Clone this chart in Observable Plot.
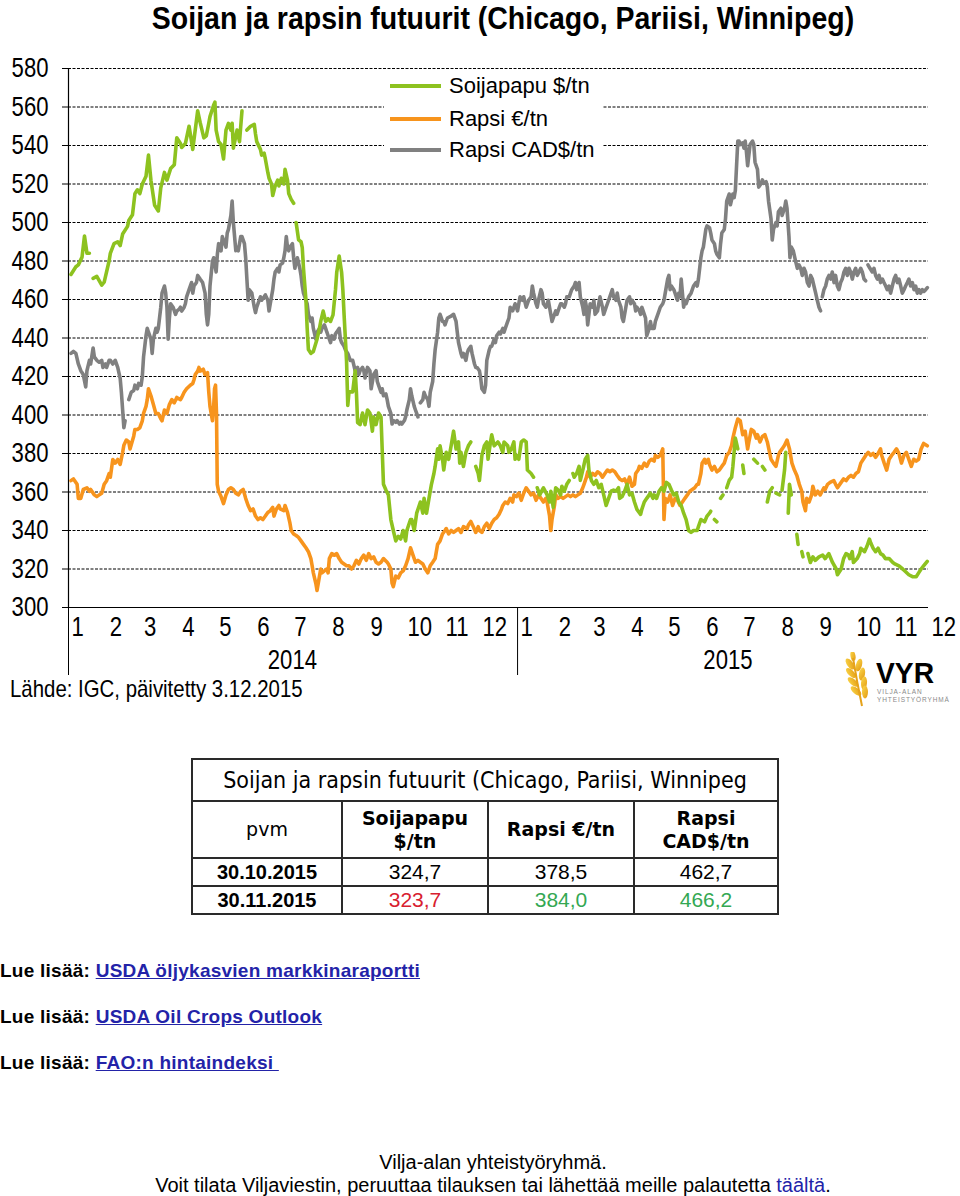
<!DOCTYPE html>
<html lang="fi">
<head>
<meta charset="utf-8">
<script src="https://cdn.jsdelivr.net/npm/d3@7"></script>
<script src="https://cdn.jsdelivr.net/npm/@observablehq/plot@0.6"></script>
<style>
html,body{margin:0;padding:0;background:#fff;}
body{position:relative;width:960px;height:1196px;overflow:hidden;font-family:"Liberation Sans",Arial,sans-serif;color:#000;}
#title{position:absolute;left:47px;top:0;width:912px;text-align:center;font-weight:bold;font-size:32px;line-height:36px;white-space:nowrap;transform:scaleX(0.89);transform-origin:456px 0;}
#chart{position:absolute;left:0;top:40px;}
#legend{position:absolute;left:384px;top:70px;width:218px;height:92px;background:#fff;}
.li{position:absolute;left:6px;height:32px;display:flex;align-items:center;font-size:22px;white-space:nowrap;}
.sw{display:inline-block;width:51px;height:4px;margin-right:8px;}
#source{position:absolute;left:10px;top:675px;font-size:24px;line-height:28px;white-space:nowrap;transform:scaleX(0.85);transform-origin:0 0;}
#logo{position:absolute;left:843px;top:652px;}
#tbl{position:absolute;left:191px;top:758px;width:586px;border-collapse:collapse;table-layout:fixed;}
#tbl td{border:2px solid #2a2a2a;text-align:center;padding:0;}
#tbl .t{height:40px;font-family:"DejaVu Sans Condensed","DejaVu Sans",sans-serif;font-size:23px;}
#tbl .h td{height:55px;font-family:"DejaVu Sans",sans-serif;font-size:19px;font-weight:bold;line-height:23px;}
#tbl .h td.pvm{font-weight:normal;}
#tbl .r td{height:26px;font-size:21px;}
#tbl .r td.d{font-weight:bold;font-size:20px;}
.red{color:#d8202f;} .grn{color:#34a853;}
.lnk{position:absolute;left:0;font-size:19px;font-weight:bold;line-height:22px;letter-spacing:0.25px;white-space:nowrap;}
.lnk a{color:#2323a8;text-decoration:underline;}
.foot{position:absolute;left:0;width:986px;text-align:center;font-size:20px;line-height:23px;white-space:nowrap;}
.foot a{color:#2323a8;text-decoration:none;}
</style>
</head>
<body>
<div id="title">Soijan ja rapsin futuurit (Chicago, Pariisi, Winnipeg)</div>
<div id="chart"></div>
<div id="legend"></div>
<div id="source">Lähde: IGC, päivitetty 3.12.2015</div>
<svg id="logo" width="117" height="56" viewBox="0 0 117 56">
  <defs>
    <linearGradient id="gold" x1="0" y1="0" x2="1" y2="1">
      <stop offset="0" stop-color="#FBD84A"/>
      <stop offset="1" stop-color="#E39A12"/>
    </linearGradient>
  </defs>
  <g fill="url(#gold)">
    <ellipse cx="7" cy="12" rx="3" ry="6.5" transform="rotate(-35 7 12)"/>
    <ellipse cx="8" cy="21" rx="3" ry="6.5" transform="rotate(-45 8 21)"/>
    <ellipse cx="10" cy="30" rx="3" ry="6.5" transform="rotate(-50 10 30)"/>
    <ellipse cx="13" cy="39" rx="3" ry="6.5" transform="rotate(-50 13 39)"/>
    <ellipse cx="16" cy="13" rx="3" ry="6.5" transform="rotate(15 16 13)"/>
    <ellipse cx="19" cy="22" rx="3" ry="6.5" transform="rotate(10 19 22)"/>
    <ellipse cx="21" cy="31" rx="3" ry="6.5" transform="rotate(5 21 31)"/>
    <ellipse cx="22" cy="40" rx="3" ry="6.5" transform="rotate(0 22 40)"/>
    <ellipse cx="10" cy="4" rx="2.5" ry="5" transform="rotate(-10 10 4)"/>
  </g>
  <path d="M10 6 Q14 30 19 54" stroke="#E5A21A" stroke-width="2" fill="none"/>
  <text x="33" y="31" font-family="Liberation Sans, Arial, sans-serif" font-weight="bold" font-size="30" textLength="58" lengthAdjust="spacingAndGlyphs">VYR</text>
  <text x="34" y="42" font-family="Liberation Sans, Arial, sans-serif" font-size="6.5" fill="#8a8a8a" letter-spacing="0.9">VILJA-ALAN</text>
  <text x="34" y="50" font-family="Liberation Sans, Arial, sans-serif" font-size="6.5" fill="#8a8a8a" letter-spacing="0.9">YHTEISTYÖRYHMÄ</text>
</svg>

<table id="tbl">
  <colgroup><col style="width:150px"><col style="width:146px"><col style="width:146px"><col style="width:144px"></colgroup>
  <tr><td class="t" colspan="4">Soijan ja rapsin futuurit (Chicago, Pariisi, Winnipeg</td></tr>
  <tr class="h"><td class="pvm">pvm</td><td>Soijapapu<br>$/tn</td><td>Rapsi €/tn</td><td>Rapsi<br>CAD$/tn</td></tr>
  <tr class="r"><td class="d">30.10.2015</td><td>324,7</td><td>378,5</td><td>462,7</td></tr>
  <tr class="r"><td class="d">30.11.2015</td><td class="red">323,7</td><td class="grn">384,0</td><td class="grn">466,2</td></tr>
</table>

<div class="lnk" style="top:960px">Lue lisää: <a>USDA öljykasvien markkinaraportti</a></div>
<div class="lnk" style="top:1006px">Lue lisää: <a>USDA Oil Crops Outlook</a></div>
<div class="lnk" style="top:1052px">Lue lisää: <a>FAO:n hintaindeksi&nbsp;</a></div>

<div class="foot" style="top:1151px">Vilja-alan yhteistyöryhmä.</div>
<div class="foot" style="top:1174px">Voit tilata Viljaviestin, peruuttaa tilauksen tai lähettää meille palautetta <a>täältä</a>.</div>

<script>
// ---------- data (x = days since 1 Jan 2014, y = price) ----------
const seriesNames = ["Soijapapu $/tn", "Rapsi €/tn", "Rapsi CAD$/tn"];
const seriesColors = ["#8DC21F", "#F7941D", "#808080"];

const soyPts = [[2,473],[6,477],[8,478],[11,482],[13,493],[15,484],[17,484],[19,null],[20,471],[23,472],[27,467.5],[29,469],[33,480],[34,484],[37,489],[40,490],[42,488],[44,494],[48,498],[49,501],[52,504],[54,515],[56,517],[58,515],[60,520],[63,524],[65,535],[67,522],[70,509],[73,506],[75,518],[78,526],[80,522],[83,528],[86,530],[88,544],[91,541],[92,539],[95,541],[98,550],[101,538],[105,558],[107,552],[110,544],[112,545],[114,551.5],[115,555],[118,561],[119,562.5],[120,548],[122,542],[124,540.5],[126,533],[128,548],[130,551.5],[132,548],[133,551.5],[134,538.6],[137,548],[139,542],[141,558],[143,null],[145,548],[148,550],[151,551],[152,546],[153,542],[156,538],[157,535],[159,536],[160,533],[162,526],[163,523],[165,520],[166,514],[168,519],[170,522],[171,519],[173,523],[175,520],[176,527.6],[178,522],[179,515],[181,512],[183,510],[184,null],[185,500],[187,491],[189,490],[190,487],[191,476],[193,459.6],[194,445],[195,434],[197,432],[199,433],[202,439.4],[204,445],[205,448.6],[207,454],[209,448.6],[211,450],[213,448.6],[215,452],[217,465],[218,474],[220,482.6],[222,474],[223,465],[224,452],[226,428],[227,405],[228,412],[231,412],[233,423],[234,412],[235,396],[237,395],[239,401],[241,395],[243,402.6],[245,401],[247,391.6],[248,399],[250,395],[252,401],[254,399],[256,364],[258,361],[260,358.5],[262,345.7],[264,340],[266,334.6],[268,337],[270,335.6],[272,340],[274,334.6],[275,340],[278,345.7],[279,345.7],[281,340],[283,349],[286,354.8],[288,349],[289,356.7],[291,349],[293,356.7],[295,364],[297,369.6],[298,373.3],[300,382.4],[301,377],[302,384],[304,377],[305,371.4],[307,380.6],[309,377],[311,384],[313,391.6],[315,382.4],[317,386],[318,375],[319,380.6],[321,373.3],[323,380.6],[325,384],[327,386],[329,null],[331,373.3],[333,369.6],[334,366],[336,379],[338,384],[340,386],[341,377],[343,386],[344,389.7],[346,384],[349,386],[351,384],[353,380.6],[354,386],[357,384],[358,380.6],[360,382.4],[362,386],[363,377],[364,379],[366,377],[368,386],[370,387],[372,386],[373,371.4],[376,369.6],[378,367.7],[380,null],[381,362.2],[383,358.5],[385,361],[386,362.2],[389,358.5],[391,354.8],[392,360.4],[394,352],[396,362.2],[398,361],[400,358.5],[401,363],[403,360.4],[405,364],[407,366],[408,null],[410,369.6],[411,367.7],[413,369.6],[415,373.3],[416,366],[418,371.4],[420,377],[422,379],[423,371.4],[425,366],[427,364],[429,366],[431,362.2],[433,364],[435,358.5],[437,353],[439,356.7],[441,360.4],[443,361],[445,360.4],[447,362.2],[448,356.7],[450,357.6],[452,360.4],[454,364],[456,358.5],[458,359.4],[460,354.8],[462,351],[465,348.4],[466,351],[468,354.8],[470,356.7],[473,359.4],[475,356.7],[476,358.5],[478,356.7],[480,360.4],[482,362.2],[484,360.4],[486,365],[488,364],[490,361],[492,358.5],[494,359.4],[496,354.8],[498,353],[500,349],[502,345.7],[504,340],[506,339],[508,340],[511,340],[512,342],[514,345.7],[517,344.5],[519,347.5],[521,349],[522,350],[523,null],[525,345.7],[527,344.5],[529,null],[530,356.7],[532,358.5],[533,null],[535,362.2],[537,366],[539,367.7],[540,373.3],[542,388],[544,382.4],[546,null],[548,374],[549,369.6],[551,null],[557,377],[560,375],[561,null],[564,373.3],[566,371.4],[567,null],[568,354.8],[570,360.4],[572,362.2],[573,null],[575,359.4],[578,358.5],[579,null],[580,361],[582,371.4],[583,380.6],[584,null],[585,349],[586,364],[587.5,358.5],[590,null],[592,338],[593,332.8],[594,null],[596,329],[597,326.3],[598,null],[601,328],[603,323.4],[605,326.3],[607,324.5],[610,326.3],[613,327.2],[615,325.4],[618,328],[621,323.4],[624,320],[625,317],[628,320],[630,325.4],[632,328],[634,327.2],[635,325.4],[637,329],[638,323.4],[641,325.4],[643,328],[644,330.8],[647,329],[649,331.8],[651,335.5],[652,333.6],[654,330.8],[656,329],[658,330.8],[660,328],[662,327.2],[664,325.4],[667,325.4],[670,323.4],[672,322.5],[675,321.6],[678,320],[680,318.8],[683,317],[686,316],[689,316],[691,318],[693,320],[695,321.6],[698,324]];

const rapeEurPts = [[2,365.9],[4,366.8],[7,364],[8,356.7],[10,356.7],[12,361.3],[15,362.2],[17,360.4],[18,361.3],[21,358.5],[23,357.6],[25,358.5],[27,359.4],[29,364],[31,365.9],[33,369.6],[34,367.7],[36,376.9],[38,375],[40,376.9],[42,374.3],[44,380.6],[45,384.3],[47,387],[49,386],[50,382.4],[53,389],[54,392.5],[56,392.5],[58,393.4],[60,397],[61,400.8],[63,404.5],[64,408],[65,413.6],[67,410],[69,405.4],[71,400.8],[73,400.8],[75,398],[76,397],[78,402.6],[80,400.8],[82,405.4],[84,408],[86,406.3],[88,409.1],[91,408],[92,409.1],[94,411.8],[96,413.6],[99,415.5],[101,416.4],[102,418.3],[103,421],[105,422.8],[106,424.7],[107,422.8],[109.5,423.8],[111,421],[113,422],[114,412],[115,404.5],[117,397],[118,404.5],[118.7,413.6],[119.5,415.5],[120.3,400.8],[120.9,364],[122,360.4],[124,357.6],[126,354],[128,358.5],[130,361.3],[132,362.2],[134,361.3],[136,359.4],[138,358.5],[140,360.4],[142,361.3],[144,356.7],[146,353],[148,350.3],[150,351.2],[152,347.5],[154,345.7],[156,346.6],[158,345.7],[160,347.5],[162,349.4],[164,350.3],[166,352],[167,347.5],[169,351.2],[171,353],[172,351.2],[175,350.3],[176,353],[178,349.4],[180,343.8],[181,340],[183,338.2],[185,337.4],[187,336.4],[189,334.6],[191,332.8],[193,331],[195,329],[197,325.4],[198,321.8],[199,318],[201,312.6],[202,308.9],[204,316.3],[205,320],[206,318],[208,319],[210,320],[211,318],[212,325.4],[214,328],[216,327.2],[218,328],[220,325.4],[222,323.5],[224,322.6],[226,321.7],[228,321.7],[230,320],[232,321.7],[234,324.5],[236,322.6],[238,325.4],[240,327.2],[242,324.5],[244,328],[246,325.4],[248,326.3],[250,323.5],[252,322.6],[254,323.5],[256,325.4],[259,323.5],[260,322.6],[262,320],[263,312.6],[264,310.8],[266,316.3],[268,315.4],[270,318],[272,319],[274,321.7],[276,325.4],[278,331],[280,327.2],[282,323.5],[284,324.5],[286,323.5],[288,322.6],[290,320],[292,318],[294,321.7],[296,323.5],[298,325.4],[300,332.8],[302,334.6],[304,338.2],[306,340],[307,341],[309,338.2],[311,340],[313,339],[315,340],[317,341],[319,339],[321,342],[324,341],[325,342.8],[327,344.7],[329,342],[331,339],[333,342],[334,340],[336,339],[338,342],[340,343.8],[342,341],[344,343.8],[346,345.7],[348,346.6],[350,348.4],[352,351.2],[353,353],[355,354.8],[357,354],[359,356.7],[361,354.8],[362,358.5],[364,357.6],[366,359.4],[368,355.7],[370,359.4],[372,362.2],[373,361.3],[376,358.5],[378,359.4],[380,355.7],[382,358.5],[384,356.7],[386,354.8],[388,356.7],[389,354.8],[391,347.5],[392,340],[393,345.7],[395,353],[396,358.5],[398,356.7],[400,357.6],[402,356.7],[404,357.6],[406,358.5],[408,357.6],[410,358.5],[412,357.6],[414,358.5],[416,359.4],[418,362.2],[419,364],[421,367.7],[422,370.5],[424,367.7],[426,369.6],[428,368.6],[430,370.5],[432,369.6],[434,367.7],[436,369.6],[438,371.4],[440,370.5],[442,371.4],[444,370.5],[446,368.6],[448,366.8],[450,365.9],[452,366.8],[454,364],[456,367.7],[458,363],[460,364],[461,369.6],[463,371.4],[464,373.3],[466,372.3],[468,375],[470,373.3],[472,376],[474,377],[476,376],[477,379],[479,378],[481,379],[483,382.4],[484,345.7],[485,356.7],[487,354.8],[489,358.5],[491,353],[493,356.7],[495,355.7],[497,353],[499,354.8],[501,356.7],[503,358.5],[505,360.4],[507,361.3],[509,362.2],[511,364],[512,364],[514,369.6],[515,375],[517,377],[518,375],[520,377],[521,374.3],[523,371.4],[525,373.3],[527,370.5],[529,371.4],[531,373.3],[533,375],[535,379],[537,380.6],[539,384.3],[540,388],[542,393.4],[544,397.9],[546,397],[547,393.4],[548,389.8],[550,391.6],[552,382.4],[553,386],[555,392.5],[557,391.6],[559,388],[560,389.8],[562,386],[564,388.9],[566,389.8],[568,386],[571,377],[573,375],[575,373.3],[577,379],[578,380.6],[580,382.4],[582,384.3],[584,387],[586,382.4],[588,375],[590,371.4],[592,368.6],[594,364],[596,360.4],[597,354.8],[599,350.3],[600,356.7],[602,354.8],[604,358.5],[605,363],[607,358.5],[609,360.4],[611,358.5],[614,362.2],[615,361.3],[617,364],[619,365],[622,365.9],[623.5,364],[625,362.2],[628,365],[630,366.8],[632,365.9],[634,367.7],[636,368.6],[638,367.7],[640,369.6],[642,370.5],[644,375],[646,377],[648,379],[650,380.6],[652,379],[654,380],[656,378],[658,380],[660,382.4],[661,379],[663,375],[665,371.4],[667,377],[669,379],[671,380.6],[673,382.4],[675,380],[677,375],[679,379],[681,380.6],[683,377],[685,373.3],[687,377],[689,376],[691,377],[693,382.4],[695,385.2],[698,384]];

const rapeCadPts = [[2,432],[4,433],[6,432],[8,426.5],[10,423],[12,421],[14,414.6],[15,423],[17,428.4],[18,426.5],[20,434.8],[21,430.2],[23,428.4],[25,427.4],[27,428.4],[28,424.7],[30,426.5],[31,424.7],[33,428.4],[34,428.4],[36,426.5],[38,428.4],[40,424.7],[42,419],[43,411.8],[44,402.6],[45,393.4],[46,397],[47,null],[49,408],[51,411.8],[53,412.7],[54,415.5],[56,413.6],[57,416.4],[59,415.5],[60,420],[61,430.2],[63,441.2],[64,445],[65,443],[67,439.4],[68,432],[69,439.4],[71,445],[72,443],[73,445],[75,456],[76,463.3],[78,467],[79,463.3],[80,456],[81,439.4],[82,450.4],[83,457.8],[85,456],[87,452.3],[88,454],[90,455],[91,456],[92,454],[94,456],[95,457.8],[96,461.4],[98,465.1],[99,467],[100,468.8],[101,463.3],[102,467],[104,468.8],[105,472.5],[107,470.6],[109,468.8],[111,463.3],[112,452.3],[113,446.8],[114,452.3],[115,467],[117,479.8],[118,481.7],[120,474.3],[121,483.5],[122,489],[124,485.3],[125,492.7],[126,490.9],[128,487.2],[129,494.5],[130,496.4],[132,503.7],[133,511.1],[134,500],[136,485.3],[137,487.2],[138,485.3],[140,492.7],[141,492.7],[143,489],[144,481.7],[145,470.6],[146,459.6],[147,465.1],[149,463.3],[150,459.6],[151,456],[152,453.2],[153,456],[155,459.6],[156,461.4],[157,459.6],[159,461.4],[160,462.4],[162,459.6],[163,454],[164,457.8],[166,465.1],[167,470.6],[168,474.3],[170,476.2],[171,474.3],[172,478],[174,478.9],[175,481.7],[176,485.3],[177,492.7],[178,487.2],[179,485.3],[180,487.2],[182,489],[183,481.7],[184,476.2],[185,479.8],[186,481.7],[188,476.2],[189,472.5],[190,467],[191,463.3],[193,459.6],[194,457.8],[195,452.3],[197,448.6],[198,450.4],[199,445],[201,439.4],[202,443],[204,445],[205,443],[206,445],[208,446.8],[209,445],[210,443],[212,439.4],[213,437.6],[214,441.2],[216,439.4],[217,442.2],[218,443],[220,445],[221,439.4],[222,437.6],[224,435.7],[225,433.9],[227,432],[228,430.2],[229,428.4],[231,428.4],[233,423],[235,424.7],[236,421],[237,423],[239,424.7],[240,423],[241,419.2],[243,424.7],[245,423],[246,413.6],[248,421],[250,423],[251,417.4],[252,415.5],[254,411.8],[255,413.6],[256,410],[258,410.9],[259,408],[260,404.5],[262,400.8],[263,395.3],[264,397.1],[266,396.2],[267,397.1],[269,395.3],[270,396.2],[271,395.3],[273,397.1],[274,399],[275,402.6],[277,408],[278,413.6],[279,410],[281,404.5],[282,402.6],[283,400.8],[284,399],[285,null],[286,406.3],[288,408],[289,411.8],[290,410],[292,408],[293,404.5],[294,411.8],[296,417.4],[297,426.5],[298,433.9],[300,443],[301,450.4],[302,452.3],[304,448.6],[305,448.6],[306,446.8],[308,450.4],[311,451.4],[313,452.3],[315,448.6],[316,443],[317,437.6],[319,432],[320,430.2],[321,432],[323,428.4],[324,432],[325,433.9],[327,435.7],[328,432],[330,426.5],[331,424.7],[332,424.7],[334,423],[335,419.2],[336,413.6],[338,411.8],[339,415.5],[340,428.4],[342,433.9],[343,435.7],[344,435.7],[346,439.4],[347,437.6],[348,441.2],[350,443],[351,442.1],[353,445],[354,443],[355,445],[357,448.6],[358,450.4],[359,456],[361,454.1],[362,456],[363,457.8],[365,454.1],[366,457.8],[367,461.4],[369,459.6],[370,461.4],[372,456],[373,457.8],[374,459.6],[376,461.4],[377,467],[378,463.3],[380,457.8],[381,456],[382,459.6],[384,465.1],[385,463.3],[386,457.8],[388,456],[389,457.8],[390,459.6],[392,452.3],[393,448.6],[395,452.3],[396,454.1],[397,452.3],[399,456],[400,457.8],[401,457.8],[403,456],[404,457.8],[405,461.4],[407,461.4],[408,463.3],[409,465.1],[411,467],[412,468.8],[413,465.1],[414,467],[415,468.8],[416,461.4],[418,456],[419,452.3],[420,459.6],[421,456],[422,446.8],[423,452.3],[424,457.8],[426,456],[427,459.6],[428,452.3],[430,454.1],[431,457.8],[432,461.4],[434,456],[435,452.3],[437,456],[438,457.8],[439,459.6],[441,463.3],[442,465.1],[443,461.4],[445,459.6],[446,463.3],[447,459.6],[449,456],[450,450.4],[451,448.6],[453,456],[454,459.6],[456,461.4],[457,457.8],[458,459.6],[460,457.8],[461,454.1],[462,456],[464,454.1],[465,452.3],[466,456],[468,452.3],[469,450.4],[470,441.2],[472,445],[473,448.6],[474,445],[476,445],[477,448.6],[479,452.3],[480,454.1],[481,456],[483,457.8],[484,459.6],[485,463.3],[487,470.6],[488,472.5],[489,465.1],[490,467],[492,465.1],[493,463.3],[494,461.4],[495,459.6],[496,463.3],[497,461.4],[498,470.6],[499,463.3],[500,456],[501,459.6],[502,457.8],[503,459.6],[504,461.4],[506,463.3],[507,465.1],[508,467],[510,468.8],[511,467],[512,470.6],[514,481.7],[515,485.3],[516,487.2],[518,496.4],[519,498.2],[521,497.3],[522,494.5],[523,490.9],[525,489],[526,485.3],[527,483.5],[529,481.7],[530,489],[531,494.5],[533,496.4],[534,501.9],[535,511.1],[537,514.8],[538,509.2],[540,514.8],[541,512.9],[542,516.6],[543,529.5],[544,542.3],[545,542.3],[546,540.5],[548,541.4],[549,538.6],[550,542.3],[551,536.8],[552,529.5],[553,535],[554,540.5],[556,542.3],[557,540.5],[558,531.3],[560,527.6],[561,518.4],[563,520.3],[564,522.1],[565,520.3],[567,521.2],[568,518.4],[569,511.1],[571,501.9],[572,490.9],[573,496.4],[575,500],[576,498.2],[577,505.6],[579,507.4],[580,503.7],[582,507.4],[583,511.1],[584,507.4],[585.6,492.7],[586.4,481.7],[587.5,487.2],[589.1,485.3],[591,479.8],[592.4,476.2],[593.7,478],[595.1,476.2],[596.4,472.5],[597.8,476.2],[599.1,474.3],[600.5,468.8],[601.9,467],[603.2,472.5],[604.6,470.6],[605.9,467],[607.3,463.3],[608.6,459.6],[610,456],[611.3,454.1],[612,null],[612.7,461.4],[614,465.1],[615.4,467],[616.7,470.6],[618.1,472.5],[619.5,470.6],[620.8,474.3],[622.2,468.8],[623.5,472.5],[624.9,467],[626.2,465.1],[627.6,468.8],[628.9,470.6],[630.3,474.3],[631.7,476.2],[633,472.5],[634.4,476.2],[635.7,474.3],[637.1,470.6],[638.4,474.3],[639.8,476.2],[641.1,472.5],[642.5,474.3],[643.9,476.2],[645.2,474.3],[646.6,470.6],[647.9,469.7],[648.9,null],[649.8,478],[651.4,476.2],[653.3,474.3],[654.7,476.2],[656,472.5],[657.4,470.6],[658.8,472.5],[660.1,468.8],[661.5,470.6],[662.8,468.8],[664.2,467],[665.5,465.1],[666.9,467],[668.2,463.3],[669.6,467],[671,470.6],[672.3,472.5],[673.7,468.8],[675,470.6],[676.4,467],[677.7,463.3],[679.1,465.1],[680.4,467],[681.8,468.8],[683.1,470.6],[684.5,467],[685.9,468.8],[687.2,465.1],[688.6,467],[689.9,463.3],[691.3,465.1],[692.6,463.3],[694,465.1],[695.3,464.2],[696.7,465.1],[698.1,466.2]];

const yTicks = [300,320,340,360,380,400,420,440,460,480,500,520,540,560,580];
const monthStarts = ["2014-01-01","2014-02-01","2014-03-01","2014-04-01","2014-05-01","2014-06-01","2014-07-01","2014-08-01","2014-09-01","2014-10-01","2014-11-01","2014-12-01",
  "2015-01-01","2015-02-01","2015-03-01","2015-04-01","2015-05-01","2015-06-01","2015-07-01","2015-08-01","2015-09-01","2015-10-01","2015-11-01","2015-12-01"];
const monthLabels = ["1","2","3","4","5","6","7","8","9","10","11","12","1","2","3","4","5","6","7","8","9","10","11","12"];
const yearLabelDates = ["2014-07-02","2015-06-21"];
const yearLabels = ["2014","2015"];
const yearStarts = ["2014-01-01","2015-01-01"];
const xDomain = ["2014-01-01","2015-12-01"];

// ---------- build ----------
const t0 = Date.UTC(2014, 0, 1);
const toDate = d => new Date(t0 + d * 864e5);
const mk = (pts, name) => pts.map(([d, v]) => ({date: toDate(d), value: v, name}));
const soy = mk(soyPts, seriesNames[0]);
const eur = mk(rapeEurPts, seriesNames[1]);
const cad = mk(rapeCadPts, seriesNames[2]);

const iso = s => new Date(s + "T00:00:00Z");
const monthDates = monthStarts.map(iso);
const monthLabelOf = new Map(monthDates.map((d, i) => [+d, monthLabels[i]]));
const yearDates = yearLabelDates.map(iso);
const yearLabelOf = new Map(yearDates.map((d, i) => [+d, yearLabels[i]]));

const chart = Plot.plot({
  width: 960, height: 642,
  marginTop: 28, marginBottom: 75, marginLeft: 68, marginRight: 32,
  x: {type: "utc", domain: xDomain.map(iso), label: null},
  y: {domain: [300, 580], label: null},
  style: {fontFamily: "'Liberation Sans', Arial, sans-serif", color: "#000", background: "#fff", overflow: "visible"},
  marks: [
    Plot.ruleY(yTicks.filter(v => v > 300), {stroke: "#000", strokeWidth: 1, strokeDasharray: "3,1.5"}),
    Plot.ruleY([300], {stroke: "#000", strokeWidth: 1.2}),
    Plot.ruleX([iso(xDomain[0])], {stroke: "#000", strokeWidth: 1.2}),
    Plot.axisY({ticks: yTicks, label: null, tickSize: 6, tickPadding: 14, fontSize: 27, tickFormat: d => String(d), stroke: "#000"}),
    Plot.axisX({ticks: monthDates, label: null, tickSize: 0, tickPadding: 9, fontSize: 27, textAnchor: "start", dx: 3, tickFormat: d => monthLabelOf.get(+d)}),
    Plot.axisX({ticks: yearDates, label: null, tickSize: 0, tickPadding: 42, fontSize: 27, tickFormat: d => yearLabelOf.get(+d)}),
    Plot.axisX({ticks: yearStarts.map(iso), label: null, tickSize: 68, tickFormat: () => "", stroke: "#000"}),
    Plot.line(cad, {x: "date", y: "value", stroke: seriesColors[2], strokeWidth: 3.6}),
    Plot.line(eur, {x: "date", y: "value", stroke: seriesColors[1], strokeWidth: 3.6}),
    Plot.line(soy, {x: "date", y: "value", stroke: seriesColors[0], strokeWidth: 3.6})
  ]
});
document.getElementById("chart").appendChild(chart);

// narrow (Arial Narrow-like) rendering of the chart's axis text: condense each label about its anchor
chart.querySelectorAll("text").forEach(t => {
  if (!t.textContent) return;
  const b = t.getBBox();
  const anchor = getComputedStyle(t).textAnchor;
  const ax = anchor === "end" ? b.x + b.width : anchor === "middle" ? b.x + b.width / 2 : b.x;
  const tr = t.getAttribute("transform") || "";
  t.setAttribute("transform", `${tr} translate(${ax},0) scale(0.82,1) translate(${-ax},0)`);
});

// legend
const legend = document.getElementById("legend");
seriesNames.forEach((n, i) => {
  const row = document.createElement("div");
  row.className = "li";
  row.style.top = [0, 33, 64][i] + "px";
  row.innerHTML = `<span class="sw" style="background:${seriesColors[i]}"></span>${n}`;
  legend.appendChild(row);
});
</script>
</body>
</html>
